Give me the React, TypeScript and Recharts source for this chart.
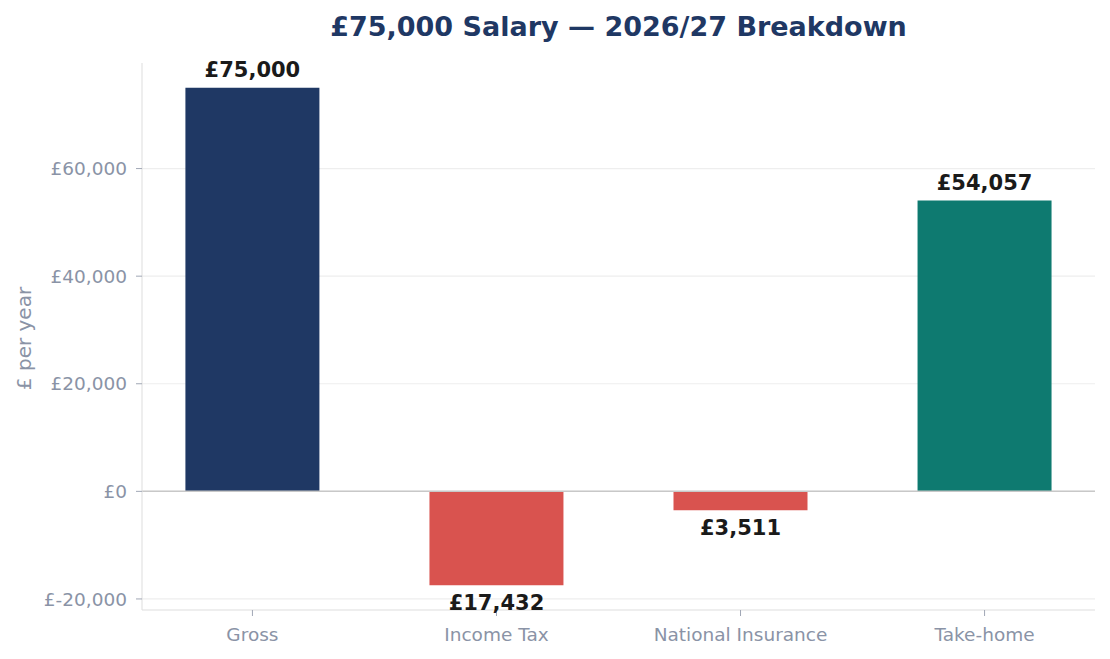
import { BarChart, Bar, XAxis, YAxis, CartesianGrid, ReferenceLine, LabelList, Cell } from 'recharts';

const categories = ['Gross', 'Income Tax', 'National Insurance', 'Take-home'];
const amounts = [75000, -17432, -3511, 54057];
const barColors = ['#1f3864', '#d9534f', '#d9534f', '#0e7a70'];
const yTicks = [-20000, 0, 20000, 40000, 60000];
const xTicks = [0, 1, 2, 3];
const Y_MIN = -22054;
const Y_MAX = 79622;

const chartData = categories.map((name, i) => ({
  idx: i,
  name,
  amount: amounts[i],
  color: barColors[i],
}));

const FONT = '"DejaVu Sans", sans-serif';
const MUTED = '#8a93a6';

const money = (v: number) => `£${v.toLocaleString('en-GB')}`;

// grid rows at the y ticks, using the axis scale where available
const gridRows = ({ yAxis, offset }: any) =>
  yTicks.map((t) => {
    const s = yAxis?.scale;
    if (typeof s === 'function') return s(t);
    if (s && typeof s.map === 'function') return s.map(t);
    return offset.top + (offset.height * (Y_MAX - t)) / (Y_MAX - Y_MIN);
  });

const ValueLabel = (props: any) => {
  const { x, y, width, height, value } = props;
  const top = Math.min(y, y + height);
  const bottom = Math.max(y, y + height);
  const neg = value < 0;
  return (
    <text
      x={x + width / 2}
      y={neg ? bottom + 25 : top - 11}
      textAnchor="middle"
      fontFamily={FONT}
      fontWeight="bold"
      fontSize={21}
      fill="#1a1a1a"
    >
      {money(Math.abs(value))}
    </text>
  );
};

const YLabel = (props: any) => {
  const { viewBox } = props;
  const cy = viewBox.y + viewBox.height / 2 + 2;
  return (
    <text
      x={24}
      y={cy}
      transform={`rotate(-90, 24, ${cy})`}
      textAnchor="middle"
      dominantBaseline="central"
      fontFamily={FONT}
      fontSize={20}
      fill={MUTED}
    >
      £ per year
    </text>
  );
};

export default function App() {
  return (
    <div style={{ position: 'absolute', left: 0, top: 0, width: 1110, height: 659, background: '#fff' }}>
      <div
        style={{
          position: 'absolute',
          left: 142,
          width: 953,
          top: 11,
          textAlign: 'center',
          fontFamily: FONT,
          fontWeight: 'bold',
          fontSize: 27,
          color: '#1f3864',
        }}
      >
        £75,000 Salary — 2026/27 Breakdown
      </div>
      <BarChart
        width={1110}
        height={659}
        data={chartData}
        margin={{ top: 63, right: 15, bottom: 0, left: 0 }}
      >
        <CartesianGrid
          vertical={false}
          stroke="#eeeeee"
          strokeWidth={1.2}
          horizontalCoordinatesGenerator={gridRows}
        />
        <XAxis
          dataKey="idx"
          type="number"
          domain={[-0.4525, 3.4525]}
          ticks={xTicks}
          tickFormatter={(v: number) => categories[v]}
          height={49}
          stroke="#dddddd"
          tickLine={{ stroke: '#a0a7b5' }}
          tickSize={6}
          tickMargin={12}
          tick={{ fill: MUTED, fontFamily: FONT, fontSize: 18.5 }}
          interval={0}
        />
        <YAxis
          domain={[Y_MIN, Y_MAX]}
          ticks={yTicks}
          tickFormatter={money}
          width={142}
          stroke="#dddddd"
          tickLine={{ stroke: '#a0a7b5' }}
          tickSize={6}
          tickMargin={9}
          tick={{ fill: MUTED, fontFamily: FONT, fontSize: 18.5 }}
          allowDataOverflow
          label={<YLabel />}
        />
        <ReferenceLine y={0} stroke="#c8c8c8" strokeWidth={1.5} />
        <Bar dataKey="amount" barSize={134} isAnimationActive={false}>
          {chartData.map((entry, index) => (
            <Cell key={`cell-${index}`} fill={entry.color} />
          ))}
          <LabelList dataKey="amount" content={<ValueLabel />} />
        </Bar>
      </BarChart>
    </div>
  );
}
